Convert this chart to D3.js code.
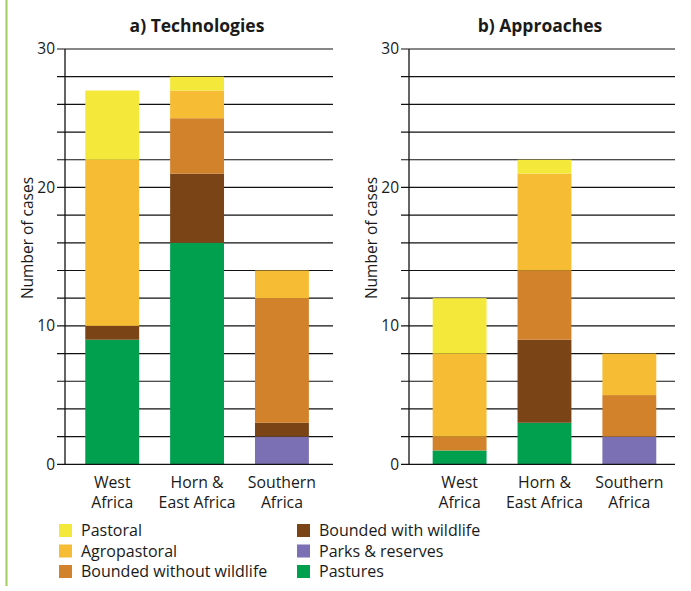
<!DOCTYPE html>
<html>
<head>
<meta charset="utf-8">
<script src="https://cdn.jsdelivr.net/npm/d3@7"></script>
<style>
  html, body { margin: 0; padding: 0; background: #fff; }
  svg { display: block; font-family: "Open Sans", "Noto Sans", sans-serif; }
</style>
</head>
<body>
<svg id="chart" width="691" height="591"></svg>
<script>
// ---------- data ----------
const regions = ["West Africa", "Horn & East Africa", "Southern Africa"];
const regionLines = [["West", "Africa"], ["Horn &", "East Africa"], ["Southern", "Africa"]];
const seriesNames = ["Pastures", "Parks & reserves", "Bounded with wildlife", "Bounded without wildlife", "Agropastoral", "Pastoral"];
const seriesColors = ["#00a04f", "#7b70b3", "#7a4416", "#d2822a", "#f6bc33", "#f4e83b"];
// values per series, in region order (West, Horn & East, Southern)
const techPastures  = [9, 16, 0];
const techParks     = [0, 0, 2];
const techBWith     = [1, 5, 1];
const techBWithout  = [0, 4, 9];
const techAgro      = [12, 2, 2];
const techPastoral  = [5, 1, 0];
const apprPastures  = [1, 3, 0];
const apprParks     = [0, 0, 2];
const apprBWith     = [0, 6, 0];
const apprBWithout  = [1, 5, 3];
const apprAgro      = [6, 7, 3];
const apprPastoral  = [4, 1, 0];
const yTicks = [0, 10, 20, 30];
const gridValues = [2, 4, 6, 8, 10, 12, 14, 16, 18, 20, 22, 24, 26, 28, 30];
const legendLeft = ["Pastoral", "Agropastoral", "Bounded without wildlife"];
const legendRight = ["Bounded with wildlife", "Parks & reserves", "Pastures"];

const svg = d3.select("#chart");
const color = d3.scaleOrdinal().domain(seriesNames).range(seriesColors);

// green side rule
svg.append("rect").attr("x", 5.5).attr("y", 0).attr("width", 2).attr("height", 586).attr("fill", "#9fcd5f");

function buildRows(arrs) {
  return regions.map((r, i) => {
    const o = { region: r };
    seriesNames.forEach((s, k) => o[s] = arrs[k][i]);
    return o;
  });
}

function panel(opts) {
  const { title, rows, axisX, gridEnd, bandRange } = opts;
  const y = d3.scaleLinear().domain([0, 30]).range([464.3, 49]);
  const x = d3.scaleBand().domain(regions).range(bandRange).paddingInner(0.365).paddingOuter(0.2);
  const g = svg.append("g");

  // gridlines and tick marks
  g.selectAll("line.grid").data(gridValues).join("line")
    .attr("x1", axisX - 8).attr("x2", gridEnd)
    .attr("y1", d => y(d)).attr("y2", d => y(d))
    .attr("stroke", "#111").attr("stroke-width", 1.2);

  // stacked bars
  const stack = d3.stack().keys(seriesNames)(rows);
  g.selectAll("g.layer").data(stack).join("g")
    .attr("fill", d => color(d.key))
    .selectAll("rect").data(d => d).join("rect")
    .attr("x", d => x(d.data.region))
    .attr("width", x.bandwidth())
    .attr("y", d => y(d[1]))
    .attr("height", d => y(d[0]) - y(d[1]));

  // axes lines
  g.append("line").attr("x1", axisX).attr("x2", axisX).attr("y1", y(30)).attr("y2", y(0))
    .attr("stroke", "#111").attr("stroke-width", 1.3);
  g.append("line").attr("x1", axisX - 8).attr("x2", gridEnd).attr("y1", y(0)).attr("y2", y(0))
    .attr("stroke", "#111").attr("stroke-width", 1.3);

  // y tick labels
  g.selectAll("text.yt").data(yTicks).join("text")
    .attr("x", axisX - 10).attr("y", d => y(d)).attr("dy", "0.35em")
    .attr("text-anchor", "end").attr("font-size", 15.5).attr("fill", "#1a1a1a")
    .text(d => d);

  // y axis title
  g.append("text")
    .attr("transform", `translate(${axisX - 32},${238}) rotate(-90)`)
    .attr("text-anchor", "middle").attr("font-size", 15.5).attr("fill", "#1a1a1a")
    .text("Number of cases");

  // category labels
  regions.forEach((r, i) => {
    const t = g.append("text").attr("text-anchor", "middle").attr("font-size", 15.8).attr("fill", "#1a1a1a");
    regionLines[i].forEach((ln, j) => {
      t.append("tspan").attr("x", x(r) + x.bandwidth() / 2).attr("y", 488 + j * 20).text(ln);
    });
  });

  // title
  g.append("text").attr("x", (axisX + gridEnd) / 2 - 2).attr("y", 32)
    .attr("text-anchor", "middle").attr("font-size", 17.5).attr("font-weight", "bold").attr("fill", "#1a1a1a")
    .text(title);
}

panel({
  title: "a) Technologies",
  rows: buildRows([techPastures, techParks, techBWith, techBWithout, techAgro, techPastoral]),
  axisX: 65, gridEnd: 333, bandRange: [68.3, 325.85]
});
panel({
  title: "b) Approaches",
  rows: buildRows([apprPastures, apprParks, apprBWith, apprBWithout, apprAgro, apprPastoral]),
  axisX: 409, gridEnd: 675, bandRange: [415.7, 673.25]
});

// legend
function legendCol(items, x0) {
  const lg = svg.append("g");
  items.forEach((name, i) => {
    const cy = 530.5 + i * 20.5;
    lg.append("rect").attr("x", x0).attr("y", cy - 6.5).attr("width", 13).attr("height", 13).attr("fill", color(name));
    lg.append("text").attr("x", x0 + 22).attr("y", cy).attr("dy", "0.35em")
      .attr("font-size", 16).attr("fill", "#1a1a1a").text(name);
  });
}
legendCol(legendLeft, 59);
legendCol(legendRight, 297);
</script>
</body>
</html>
